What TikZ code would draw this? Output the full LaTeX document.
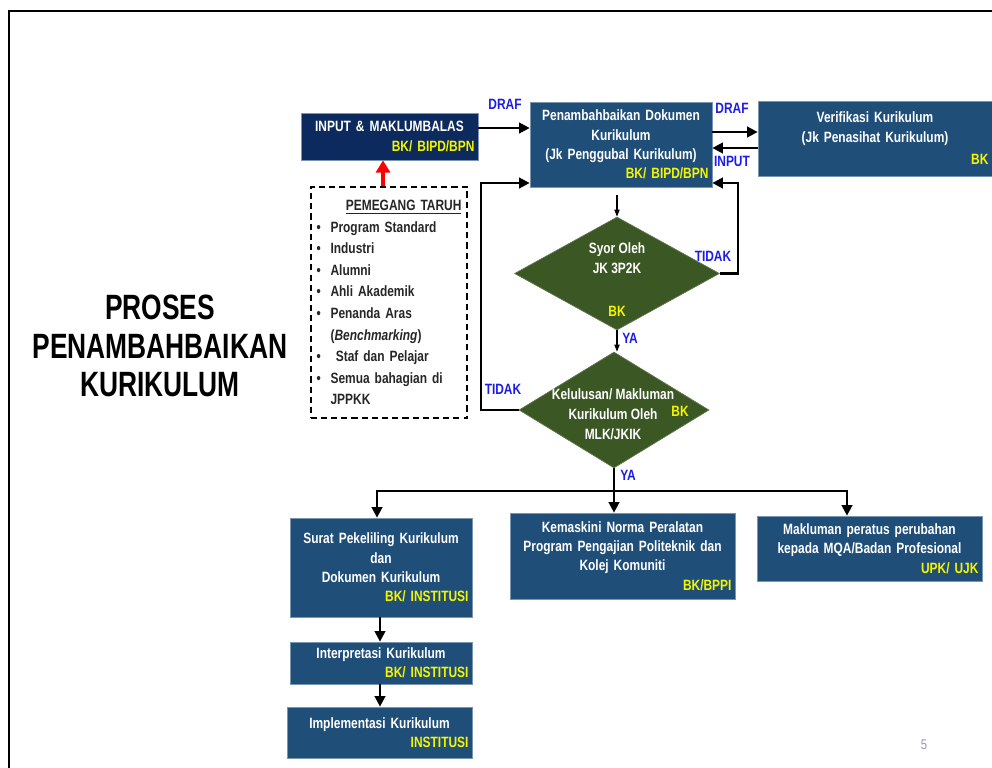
\documentclass[tikz,border=0pt]{standalone}
\usepackage{fontspec}
\setmainfont{Liberation Sans}[FakeStretch=0.8]
\newfontfamily\titlefont{Liberation Sans}[FakeStretch=0.75]
\usetikzlibrary{arrows.meta, shapes.geometric}

\definecolor{boxblue}{HTML}{1F4E79}
\definecolor{boxnavy}{HTML}{0C2A5E}
\definecolor{decgreen}{HTML}{3A5724}
\definecolor{tagyellow}{HTML}{F5F500}
\definecolor{flowblue}{HTML}{1C1CE8}
\definecolor{pagegray}{HTML}{8C9BB0}

\newcommand{\yeltag}[1]{\\\hspace*{\fill}\textcolor{tagyellow}{#1}}
\newcommand{\pitem}{\makebox[8pt][l]{\textbullet}}

\tikzset{
  box/.style={draw=boxblue!60!white, fill=boxblue, text=white, align=center,
    text width=#1, inner xsep=2pt, inner ysep=0pt,
    font=\fontsize{8.5}{11}\selectfont\bfseries},
  decision/.style={diamond, draw=decgreen!80!white, fill=decgreen, inner sep=0pt},
  dectext/.style={text=white, align=center, font=\fontsize{8.5}{11.5}\selectfont\bfseries},
  tagtext/.style={text=tagyellow, font=\fontsize{8.5}{11}\selectfont\bfseries},
  flowlbl/.style={text=flowblue, font=\fontsize{8.5}{10}\selectfont\bfseries},
  arr/.style={line width=1.3pt, -{Triangle[length=6pt, width=6pt]}},
  thinarr/.style={line width=0.6pt, -{Triangle[length=4pt, width=3pt]}}
}

\begin{document}
\begin{tikzpicture}[x=0.02cm, y=-0.02cm]
\useasboundingbox (0,0) rectangle (992,768);
\draw[line width=1.5pt] (992,11) -- (9,11) -- (9,768);

\node[font=\titlefont\fontsize{20}{22}\selectfont\bfseries, align=center] (title) at (160,346) {PROSES\\PENAMBAHBAIKAN\\KURIKULUM};

% top row
\node[box=3.40cm, fill=boxnavy, minimum height=0.94cm] (input) at (389.5,136.5) {INPUT \& MAKLUMBALAS\yeltag{BK/ BIPD/BPN}};
\node[box=3.50cm, minimum height=1.7cm] (penamb) at (621,144.5) {Penambahbaikan Dokumen\\Kurikulum\\(Jk Penggubal Kurikulum)\yeltag{BK/ BIPD/BPN}};
\node[box=4.54cm, minimum height=1.5cm] (verif) at (875,138.5) {Verifikasi Kurikulum\\(Jk Penasihat Kurikulum)\\[2pt]\hspace*{\fill}\textcolor{tagyellow}{BK}};

\node[draw, line width=1.1pt, dash pattern=on 3.5pt off 2.3pt, minimum width=3.12cm, minimum height=4.62cm,
  text width=2.9cm, align=left, text=black!85, font=\fontsize{8.5}{12.3}\selectfont\bfseries] (taruh) at (389,302.5)
  {\hspace*{\fill}\underline{PEMEGANG TARUH}\hspace*{\fill}\\
   \pitem Program Standard\\
   \pitem Industri\\
   \pitem Alumni\\
   \pitem Ahli Akademik\\
   \pitem Penanda Aras\\
   \hspace*{8pt}(\textit{Benchmarking})\\
   \pitem\hspace*{3pt}Staf dan Pelajar\\
   \pitem Semua bahagian di\\
   \hspace*{8pt}JPPKK};

% decisions
\node[decision, minimum width=4.1cm, minimum height=2.26cm] (syor) at (617,273.5) {};
\node[dectext] (syortxt) at (617,258) {Syor Oleh\\JK 3P2K};
\node[tagtext] (syortag) at (617,311) {BK};
\node[decision, minimum width=3.8cm, minimum height=2.32cm] (lulus) at (614,410) {};
\node[dectext] (lulustxt) at (613,414) {Kelulusan/ Makluman\\Kurikulum Oleh\\MLK/JKIK};
\node[tagtext] (lulustag) at (680,411) {BK};

% bottom row
\node[box=3.50cm, minimum height=1.98cm] (surat) at (381,567.5) {Surat Pekeliling Kurikulum\\dan\\Dokumen Kurikulum\yeltag{BK/ INSTITUSI}};
\node[box=4.36cm, minimum height=1.72cm] (kemas) at (622.5,556) {Kemaskini Norma Peralatan\\Program Pengajian Politeknik dan\\Kolej Komuniti\yeltag{BK/BPPI}};
\node[box=4.36cm, minimum height=1.3cm] (maklum) at (869.5,548.5) {Makluman peratus perubahan\\kepada MQA/Badan Profesional\yeltag{UPK/ UJK}};
\node[box=3.50cm, minimum height=0.84cm] (interp) at (381,663) {Interpretasi Kurikulum\yeltag{BK/ INSTITUSI}};
\node[box=3.56cm, minimum height=1.02cm] (impl) at (379.5,732.5) {Implementasi Kurikulum\yeltag{INSTITUSI}};

\node[flowlbl] (draf1) at (505,104) {DRAF};
\node[flowlbl] (draf2) at (732,108) {DRAF};
\node[flowlbl] (inputlbl) at (732,161) {INPUT};
\node[flowlbl] (tidak1) at (713,256) {TIDAK};
\node[flowlbl] (ya1) at (630,338) {YA};
\node[flowlbl] (tidak2) at (503,389) {TIDAK};
\node[flowlbl] (ya2) at (628,475) {YA};
\node[text=pagegray, font=\fontsize{8}{10}\selectfont] (pagenum) at (924,745) {5};

% connectors
\draw[arr] (input.east |- 0,128) -- (penamb.west |- 0,128);
\draw[arr] (penamb.east |- 0,132) -- (verif.west |- 0,132);
\draw[arr] (verif.west |- 0,148) -- (penamb.east |- 0,148);
\draw[red, line width=2.5pt, -{Triangle[length=7pt, width=8pt]}] (taruh.north -| 383,0) -- (input.south -| 383,0);
\draw[thinarr, shorten <=0.16cm] (penamb.south -| syor.north) -- (syor.north);
\coordinate (tidakR) at (738,273.5);
\draw[arr] (syor.east) -- (tidakR) |- (penamb.east |- 0,183);
\draw[thinarr] (syor.south) -- (syor.south |- lulus.north);
\coordinate (tidakL) at (481,410);
\draw[arr] (lulus.west) -- (tidakL) |- (penamb.west |- 0,183);
\coordinate (split) at (lulus.south |- 0,491);
\draw[line width=1.3pt] (lulus.south) -- (split);
\draw[arr] (split) -| (surat.north -| 377,0);
\draw[arr] (split) -- (kemas.north -| split);
\draw[arr] (split) -| (maklum.north -| 847,0);
\draw[arr] (surat.south -| 380,0) -- (interp.north -| 380,0);
\draw[arr] (interp.south -| 380,0) -- (impl.north -| 380,0);
\end{tikzpicture}
\end{document}
